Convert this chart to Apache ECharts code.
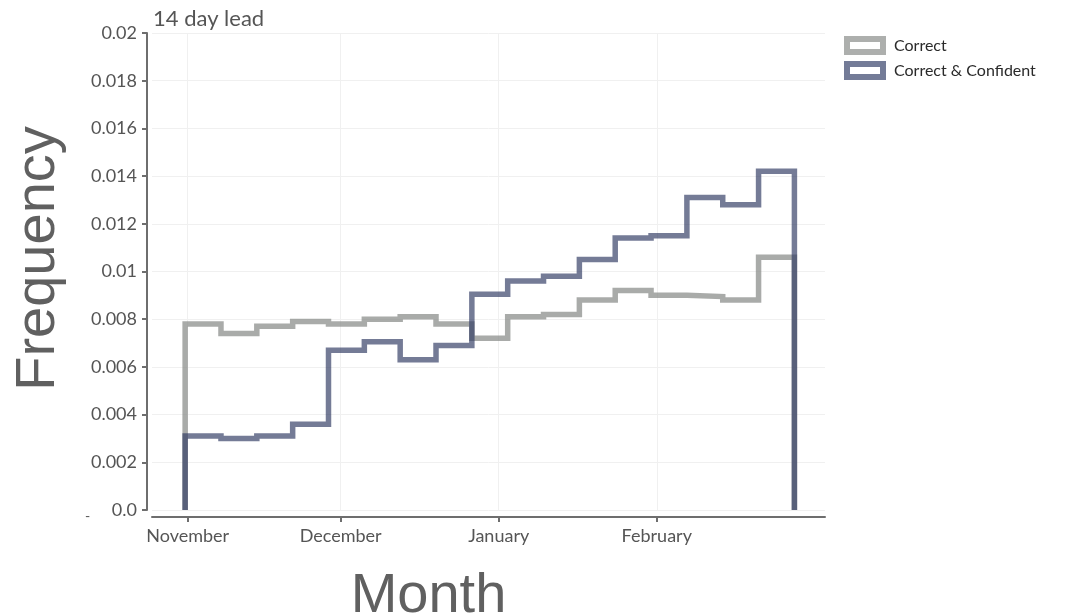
<!DOCTYPE html>
<html>
<head>
<meta charset="utf-8">
<script src="https://cdn.jsdelivr.net/npm/echarts@6/dist/echarts.min.js"></script>
<style>
  html, body { margin: 0; padding: 0; background: #fff; }
  #chart { width: 1065px; height: 616px; }
</style>
</head>
<body>
<div id="chart"></div>
<script>
// Weekly histogram of forecast outcomes, 14 day lead (x in days since 1 November)
const monthTickDays = [0, 30, 61, 92];
const monthLabels = ['November', 'December', 'January', 'February'];
const binStartDay = -0.5;
const binEndDay = 119;
const correct = [0.0078, 0.0074, 0.0077, 0.0079, 0.0078, 0.0080, 0.0081, 0.0078, 0.0072,
                 0.0081, 0.0082, 0.0088, 0.0092, 0.0090, 0.00895, 0.0088, 0.0106];
const confident = [0.0031, 0.0030, 0.0031, 0.0036, 0.0067, 0.00705, 0.0063, 0.0069, 0.00905,
                   0.0096, 0.0098, 0.0105, 0.0114, 0.0115, 0.0131, 0.0128, 0.0142];

// outline of a step histogram: up from zero, across each bin, back down to zero
function stepOutline(values) {
  const w = (binEndDay - binStartDay) / values.length;
  const pts = [[binStartDay, 0]];
  values.forEach((v, i) => {
    pts.push([binStartDay + i * w, v]);
    pts.push([binStartDay + (i + 1) * w, v]);
  });
  pts.push([binEndDay, 0]);
  return pts;
}

const GREY = 'rgba(140,143,140,0.75)';
const NAVY = 'rgba(50,60,100,0.68)';
const tickFont = 'Lato, "Noto Sans", sans-serif';
const nameFont = '"Liberation Sans", Arial, sans-serif';

const chart = echarts.init(document.getElementById('chart'), null, { renderer: 'canvas' });
chart.setOption({
  animation: false,
  backgroundColor: '#fff',
  title: {
    text: '14 day lead',
    left: 148, top: 3,
    textStyle: { fontFamily: tickFont, fontSize: 22, fontWeight: 'normal', color: '#555' }
  },
  legend: {
    left: 844, top: 36,
    padding: 0,
    orient: 'vertical',
    itemWidth: 36, itemHeight: 13, itemGap: 6,
    textStyle: { fontFamily: tickFont, fontSize: 16, color: '#2a2a2a', padding: [0, 0, 0, 6] },
    data: [
      { name: 'Correct', icon: 'rect', itemStyle: { color: '#fff', borderColor: '#adafad', borderWidth: 6 } },
      { name: 'Correct & Confident', icon: 'rect', itemStyle: { color: '#fff', borderColor: '#737b97', borderWidth: 6 } }
    ]
  },
  grid: { left: 152, right: 240, top: 33, bottom: 106, outerBoundsMode: 'none', containLabel: false },
  xAxis: {
    type: 'value',
    min: -7, max: 125,
    offset: 7,
    name: 'Month',
    nameLocation: 'middle',
    nameGap: 52,
    nameTextStyle: { fontFamily: nameFont, fontSize: 56, color: '#606060', padding: [0, 120, 0, 0] },
    axisLine: { show: true, onZero: false, lineStyle: { color: '#6e6e6e', width: 2 } },
    axisTick: { show: true, length: 5, lineStyle: { color: '#6e6e6e', width: 2 }, customValues: monthTickDays },
    axisLabel: {
      customValues: monthTickDays,
      margin: 10,
      fontFamily: tickFont, fontSize: 18, color: '#555',
      formatter: v => monthLabels[monthTickDays.indexOf(v)] || ''
    },
    splitLine: { show: true, lineStyle: { color: '#f0f0f0', width: 1 } }
  },
  yAxis: {
    type: 'value',
    min: 0, max: 0.02, interval: 0.002,
    offset: 5,
    name: 'Frequency',
    nameLocation: 'middle',
    nameGap: 80,
    nameTextStyle: { fontFamily: nameFont, fontSize: 56, color: '#606060', padding: [0, 0, 0, 26] },
    axisLine: { show: true, onZero: false, lineStyle: { color: '#6e6e6e', width: 2 } },
    axisTick: { show: true, length: 5, lineStyle: { color: '#6e6e6e', width: 2 } },
    axisLabel: {
      margin: 10,
      fontFamily: tickFont, fontSize: 18, color: '#555',
      formatter: v => v === 0 ? '0.0' : String(+v.toFixed(3))
    },
    splitLine: { show: true, lineStyle: { color: '#f0f0f0', width: 1 } }
  },
  graphic: [
    { type: 'text', left: 85, top: 509, style: { text: '-', fontSize: 14, fill: '#555', fontFamily: tickFont } }
  ],
  series: [
    {
      name: 'Correct', type: 'line', data: stepOutline(correct),
      showSymbol: false, symbol: 'none', silent: true,
      lineStyle: { color: GREY, width: 5.5, join: 'miter', cap: 'butt' },
      itemStyle: { color: GREY }
    },
    {
      name: 'Correct & Confident', type: 'line', data: stepOutline(confident),
      showSymbol: false, symbol: 'none', silent: true,
      lineStyle: { color: NAVY, width: 5.5, join: 'miter', cap: 'butt' },
      itemStyle: { color: NAVY }
    }
  ]
});
</script>
</body>
</html>
